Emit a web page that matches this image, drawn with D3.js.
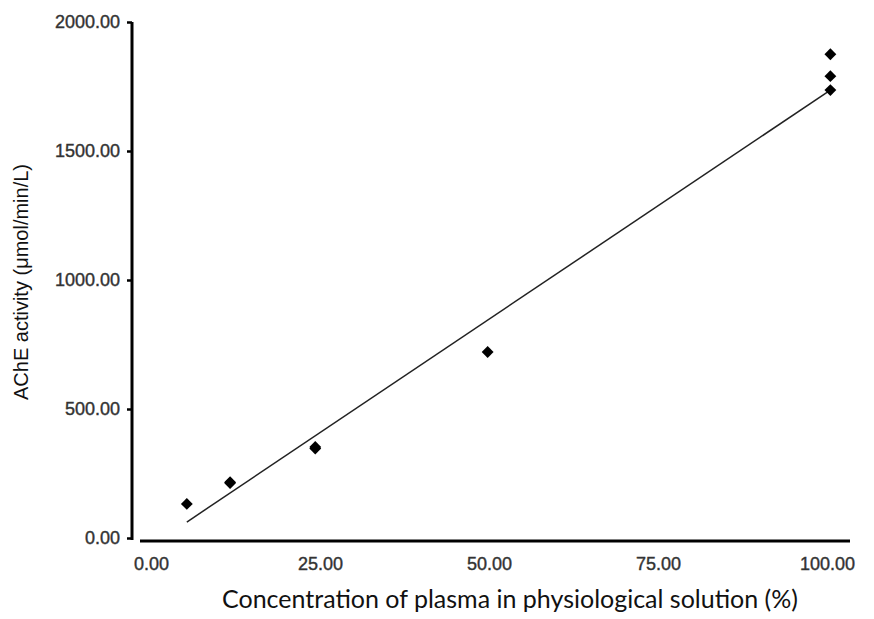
<!DOCTYPE html>
<html>
<head>
<meta charset="utf-8">
<script src="https://cdn.jsdelivr.net/npm/d3@7"></script>
<style>
  html, body { margin: 0; padding: 0; background: #fff; }
  svg { display: block; }
</style>
</head>
<body>
<svg id="chart" width="874" height="619"></svg>
<script>
// ---- data ----
const concentration = [5.3, 11.7, 11.7, 24.3, 24.3, 49.8, 100.5, 100.5, 100.5];
const activity      = [132, 213, 216, 347, 353, 721, 1736, 1790, 1875];
const fitX = [5.3, 100.5];
const fitY = [62, 1736];
const xTicks = [0, 25, 50, 75, 100];
const yTicks = [0, 500, 1000, 1500, 2000];
const xLabel = "Concentration of plasma in physiological solution (%)";
const yLabel = "AChE activity (\u03bcmol/min/L)";

// ---- layout ----
const svg = d3.select("#chart");
const x = d3.scaleLinear().domain([0, 100]).range([151, 827]);
const y = d3.scaleLinear().domain([0, 2000]).range([538, 22]);
const yAxisX = 132, xAxisY = 541;
const tickFont = "Liberation Sans, Arial, sans-serif";

// y axis
const gy = svg.append("g").attr("transform", `translate(${yAxisX},0)`)
  .call(d3.axisLeft(y).tickValues(yTicks).tickFormat(d3.format(".2f")).tickSize(5).tickPadding(7));
gy.select(".domain").attr("d", `M0,${y(2000)}V${xAxisY - 1}`).attr("stroke", "#000").attr("stroke-width", 3);
gy.selectAll(".tick line").attr("stroke", "#000").attr("stroke-width", 2.5);
gy.selectAll(".tick text").attr("font-family", tickFont)
  .attr("font-size", 18).attr("fill", "#333").attr("stroke", "#333").attr("stroke-width", 0.4);

// x axis
const gx = svg.append("g").attr("transform", `translate(0,${xAxisY})`)
  .call(d3.axisBottom(x).tickValues(xTicks).tickFormat(d3.format(".2f")).tickSize(0).tickPadding(16));
gx.select(".domain").attr("d", `M140,0H850`).attr("stroke", "#000").attr("stroke-width", 3);
gx.selectAll(".tick text").attr("font-family", tickFont)
  .attr("font-size", 18).attr("fill", "#333").attr("stroke", "#333").attr("stroke-width", 0.4);

// fit line
svg.append("line")
  .attr("x1", x(fitX[0])).attr("y1", y(fitY[0]))
  .attr("x2", x(fitX[1])).attr("y2", y(fitY[1]))
  .attr("stroke", "#222").attr("stroke-width", 1.5);

// points
const diamond = d3.symbol().type(d3.symbolSquare).size(70);
svg.append("g").selectAll("path").data(concentration.map((c, i) => [c, activity[i]]))
  .join("path")
  .attr("d", diamond)
  .attr("transform", d => `translate(${x(d[0])},${y(d[1])}) rotate(45)`)
  .attr("fill", "#000");

// axis labels
svg.append("text")
  .attr("x", 510).attr("y", 608)
  .attr("text-anchor", "middle")
  .attr("font-family", "Lato, sans-serif").attr("font-size", 25).attr("fill", "#111")
  .text(xLabel);
svg.append("text")
  .attr("transform", "translate(28,282) rotate(-90)")
  .attr("text-anchor", "middle")
  .attr("font-family", "Liberation Sans, Arial, sans-serif").attr("font-size", 20).attr("fill", "#111")
  .text(yLabel);
</script>
</body>
</html>
